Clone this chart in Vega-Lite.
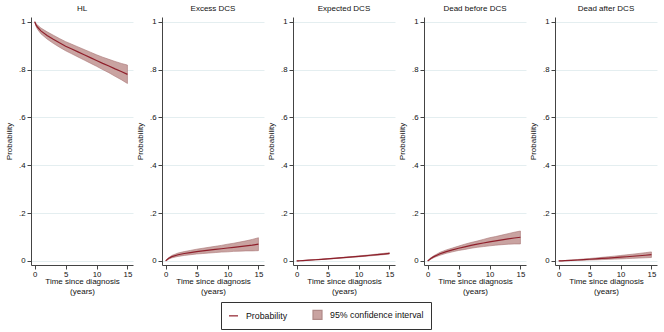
{
"$schema": "https://vega.github.io/schema/vega-lite/v6.json",
"data": {"values": [
{"panel":"HL","t":0,"p":1,"lo":1,"hi":1},
{"panel":"HL","t":0.25,"p":0.985,"lo":0.979,"hi":0.991},
{"panel":"HL","t":0.5,"p":0.976,"lo":0.967,"hi":0.985},
{"panel":"HL","t":1,"p":0.962,"lo":0.95,"hi":0.974},
{"panel":"HL","t":2,"p":0.943,"lo":0.928,"hi":0.958},
{"panel":"HL","t":3,"p":0.927,"lo":0.91,"hi":0.944},
{"panel":"HL","t":4,"p":0.912,"lo":0.894,"hi":0.93},
{"panel":"HL","t":5,"p":0.898,"lo":0.879,"hi":0.917},
{"panel":"HL","t":6,"p":0.886,"lo":0.866,"hi":0.906},
{"panel":"HL","t":7,"p":0.874,"lo":0.853,"hi":0.895},
{"panel":"HL","t":8,"p":0.862,"lo":0.84,"hi":0.884},
{"panel":"HL","t":9,"p":0.85,"lo":0.827,"hi":0.873},
{"panel":"HL","t":10,"p":0.838,"lo":0.814,"hi":0.862},
{"panel":"HL","t":11,"p":0.826,"lo":0.8,"hi":0.852},
{"panel":"HL","t":12,"p":0.815,"lo":0.787,"hi":0.843},
{"panel":"HL","t":13,"p":0.803,"lo":0.772,"hi":0.834},
{"panel":"HL","t":14,"p":0.792,"lo":0.758,"hi":0.826},
{"panel":"HL","t":15,"p":0.78,"lo":0.742,"hi":0.819},
{"panel":"Excess DCS","t":0,"p":0,"lo":0,"hi":0},
{"panel":"Excess DCS","t":0.25,"p":0.006,"lo":0.004,"hi":0.008},
{"panel":"Excess DCS","t":0.5,"p":0.011,"lo":0.008,"hi":0.014},
{"panel":"Excess DCS","t":1,"p":0.018,"lo":0.013,"hi":0.023},
{"panel":"Excess DCS","t":2,"p":0.026,"lo":0.019,"hi":0.033},
{"panel":"Excess DCS","t":3,"p":0.031,"lo":0.023,"hi":0.039},
{"panel":"Excess DCS","t":4,"p":0.035,"lo":0.026,"hi":0.044},
{"panel":"Excess DCS","t":5,"p":0.039,"lo":0.029,"hi":0.049},
{"panel":"Excess DCS","t":6,"p":0.042,"lo":0.031,"hi":0.053},
{"panel":"Excess DCS","t":7,"p":0.045,"lo":0.033,"hi":0.057},
{"panel":"Excess DCS","t":8,"p":0.048,"lo":0.035,"hi":0.061},
{"panel":"Excess DCS","t":9,"p":0.051,"lo":0.037,"hi":0.065},
{"panel":"Excess DCS","t":10,"p":0.054,"lo":0.038,"hi":0.07},
{"panel":"Excess DCS","t":11,"p":0.057,"lo":0.04,"hi":0.074},
{"panel":"Excess DCS","t":12,"p":0.06,"lo":0.041,"hi":0.079},
{"panel":"Excess DCS","t":13,"p":0.063,"lo":0.042,"hi":0.084},
{"panel":"Excess DCS","t":14,"p":0.066,"lo":0.042,"hi":0.09},
{"panel":"Excess DCS","t":15,"p":0.07,"lo":0.043,"hi":0.097},
{"panel":"Expected DCS","t":0,"p":0,"lo":0,"hi":0},
{"panel":"Expected DCS","t":0.25,"p":0.0004,"lo":0.0003,"hi":0.0005},
{"panel":"Expected DCS","t":0.5,"p":0.0008,"lo":0.0006,"hi":0.001},
{"panel":"Expected DCS","t":1,"p":0.0016,"lo":0.0013,"hi":0.0019},
{"panel":"Expected DCS","t":2,"p":0.0033,"lo":0.0028,"hi":0.0038},
{"panel":"Expected DCS","t":3,"p":0.005,"lo":0.0043,"hi":0.0057},
{"panel":"Expected DCS","t":4,"p":0.0068,"lo":0.006,"hi":0.0076},
{"panel":"Expected DCS","t":5,"p":0.0087,"lo":0.0077,"hi":0.0097},
{"panel":"Expected DCS","t":6,"p":0.0106,"lo":0.0095,"hi":0.0117},
{"panel":"Expected DCS","t":7,"p":0.0126,"lo":0.0113,"hi":0.0139},
{"panel":"Expected DCS","t":8,"p":0.0147,"lo":0.0133,"hi":0.0161},
{"panel":"Expected DCS","t":9,"p":0.0168,"lo":0.0152,"hi":0.0184},
{"panel":"Expected DCS","t":10,"p":0.019,"lo":0.0172,"hi":0.0208},
{"panel":"Expected DCS","t":11,"p":0.0213,"lo":0.0193,"hi":0.0233},
{"panel":"Expected DCS","t":12,"p":0.0237,"lo":0.0215,"hi":0.0259},
{"panel":"Expected DCS","t":13,"p":0.0262,"lo":0.0238,"hi":0.0286},
{"panel":"Expected DCS","t":14,"p":0.0288,"lo":0.0262,"hi":0.0314},
{"panel":"Expected DCS","t":15,"p":0.0315,"lo":0.0287,"hi":0.0343},
{"panel":"Dead before DCS","t":0,"p":0,"lo":0,"hi":0},
{"panel":"Dead before DCS","t":0.25,"p":0.005,"lo":0.003,"hi":0.007},
{"panel":"Dead before DCS","t":0.5,"p":0.01,"lo":0.007,"hi":0.013},
{"panel":"Dead before DCS","t":1,"p":0.018,"lo":0.014,"hi":0.022},
{"panel":"Dead before DCS","t":2,"p":0.03,"lo":0.024,"hi":0.036},
{"panel":"Dead before DCS","t":3,"p":0.039,"lo":0.032,"hi":0.046},
{"panel":"Dead before DCS","t":4,"p":0.046,"lo":0.038,"hi":0.054},
{"panel":"Dead before DCS","t":5,"p":0.053,"lo":0.044,"hi":0.062},
{"panel":"Dead before DCS","t":6,"p":0.059,"lo":0.048,"hi":0.07},
{"panel":"Dead before DCS","t":7,"p":0.065,"lo":0.053,"hi":0.077},
{"panel":"Dead before DCS","t":8,"p":0.07,"lo":0.057,"hi":0.083},
{"panel":"Dead before DCS","t":9,"p":0.075,"lo":0.06,"hi":0.09},
{"panel":"Dead before DCS","t":10,"p":0.08,"lo":0.063,"hi":0.097},
{"panel":"Dead before DCS","t":11,"p":0.084,"lo":0.066,"hi":0.102},
{"panel":"Dead before DCS","t":12,"p":0.088,"lo":0.068,"hi":0.108},
{"panel":"Dead before DCS","t":13,"p":0.092,"lo":0.07,"hi":0.114},
{"panel":"Dead before DCS","t":14,"p":0.096,"lo":0.071,"hi":0.12},
{"panel":"Dead before DCS","t":15,"p":0.099,"lo":0.071,"hi":0.125},
{"panel":"Dead after DCS","t":0,"p":0,"lo":0,"hi":0},
{"panel":"Dead after DCS","t":0.25,"p":0.0003,"lo":0.0001,"hi":0.0005},
{"panel":"Dead after DCS","t":0.5,"p":0.0006,"lo":0.0003,"hi":0.0009},
{"panel":"Dead after DCS","t":1,"p":0.0012,"lo":0.0006,"hi":0.0018},
{"panel":"Dead after DCS","t":2,"p":0.0026,"lo":0.0014,"hi":0.0038},
{"panel":"Dead after DCS","t":3,"p":0.004,"lo":0.0022,"hi":0.0058},
{"panel":"Dead after DCS","t":4,"p":0.0055,"lo":0.003,"hi":0.008},
{"panel":"Dead after DCS","t":5,"p":0.007,"lo":0.0038,"hi":0.0102},
{"panel":"Dead after DCS","t":6,"p":0.0086,"lo":0.0047,"hi":0.0125},
{"panel":"Dead after DCS","t":7,"p":0.0103,"lo":0.0056,"hi":0.015},
{"panel":"Dead after DCS","t":8,"p":0.012,"lo":0.0066,"hi":0.0174},
{"panel":"Dead after DCS","t":9,"p":0.0138,"lo":0.0076,"hi":0.02},
{"panel":"Dead after DCS","t":10,"p":0.0157,"lo":0.0086,"hi":0.0228},
{"panel":"Dead after DCS","t":11,"p":0.0176,"lo":0.0097,"hi":0.0255},
{"panel":"Dead after DCS","t":12,"p":0.0196,"lo":0.0108,"hi":0.0284},
{"panel":"Dead after DCS","t":13,"p":0.0217,"lo":0.012,"hi":0.0314},
{"panel":"Dead after DCS","t":14,"p":0.0238,"lo":0.0131,"hi":0.0345},
{"panel":"Dead after DCS","t":15,"p":0.026,"lo":0.0143,"hi":0.0377}
]},
"facet": {"column": {"field": "panel", "type": "nominal",
  "sort": ["HL","Excess DCS","Expected DCS","Dead before DCS","Dead after DCS"],
  "header": {"title": null, "labelFont": "Liberation Sans", "labelFontSize": 8, "labelColor": "#111", "labelPadding": 4}}},
"spacing": 29,
"bounds": "flush",
"resolve": {"axis": {"y": "independent", "x": "independent"}},
"spec": {
  "width": 102, "height": 248,
  "encoding": {
    "x": {"field": "t", "type": "quantitative", "scale": {"domain": [-0.6, 15.9], "nice": false, "zero": false},
          "axis": {"values": [0,5,10,15], "grid": false, "tickSize": 4, "labelPadding": 1, "labelOverlap": false, "labelFlush": false,
                   "title": ["Time since diagnosis", "(years)"], "titlePadding": 0}}
  },
  "layer": [
    {"mark": {"type": "area", "fill": "#c9a3a1", "stroke": "#a87474", "strokeWidth": 0.6, "opacity": 1},
     "encoding": {
       "y": {"field": "lo", "type": "quantitative", "scale": {"domain": [-0.017, 1.02], "nice": false, "zero": false},
             "axis": {"values": [0,0.2,0.4,0.6,0.8,1], "grid": true, "gridColor": "#e4eef0", "tickSize": 4, "labelPadding": 2, "labelOverlap": false, "title": "Probability", "titlePadding": 5,
                      "labelExpr": "datum.value == 0 ? '0' : datum.value == 1 ? '1' : replace(format(datum.value, '.1f'), '0.', '.')"}},
       "y2": {"field": "hi"}
     }},
    {"mark": {"type": "line", "strokeWidth": 1.2, "color": "#8f1f2b"},
     "encoding": {
       "y": {"field": "p", "type": "quantitative"}
     }},
    {"transform": [{"filter": "datum.t < 0"}],
     "mark": {"type": "point", "filled": false},
     "encoding": {
       "y": {"field": "p", "type": "quantitative"},
       "shape": {"field": "series", "type": "nominal",
         "scale": {"domain": ["Probability", "95% confidence interval"], "range": ["stroke", "square"]},
         "legend": {"orient": "none", "legendX": 190, "legendY": 285, "direction": "horizontal", "title": null,
           "strokeColor": "#333", "padding": 7, "columnPadding": 22, "symbolSize": 81, "symbolStrokeWidth": 1.2, "symbolOpacity": 1, "labelOffset": 7, "labelFontSize": 8.8, "labelFont": "Liberation Sans", "labelColor": "#111"}},
       "fill": {"field": "series", "type": "nominal",
         "scale": {"domain": ["Probability", "95% confidence interval"], "range": ["transparent", "#c9a3a1"]}},
       "stroke": {"field": "series", "type": "nominal",
         "scale": {"domain": ["Probability", "95% confidence interval"], "range": ["#8f1f2b", "#b08a88"]}}
     }}
  ]
},
"config": {
  "view": {"stroke": null},
  "font": "Liberation Sans",
  "axis": {"labelFont": "Liberation Sans", "titleFont": "Liberation Sans", "labelFontSize": 7.8, "titleFontSize": 8, "titleFontWeight": "normal",
           "domainColor": "#444", "tickColor": "#444", "labelColor": "#111", "titleColor": "#111"}
}
}
